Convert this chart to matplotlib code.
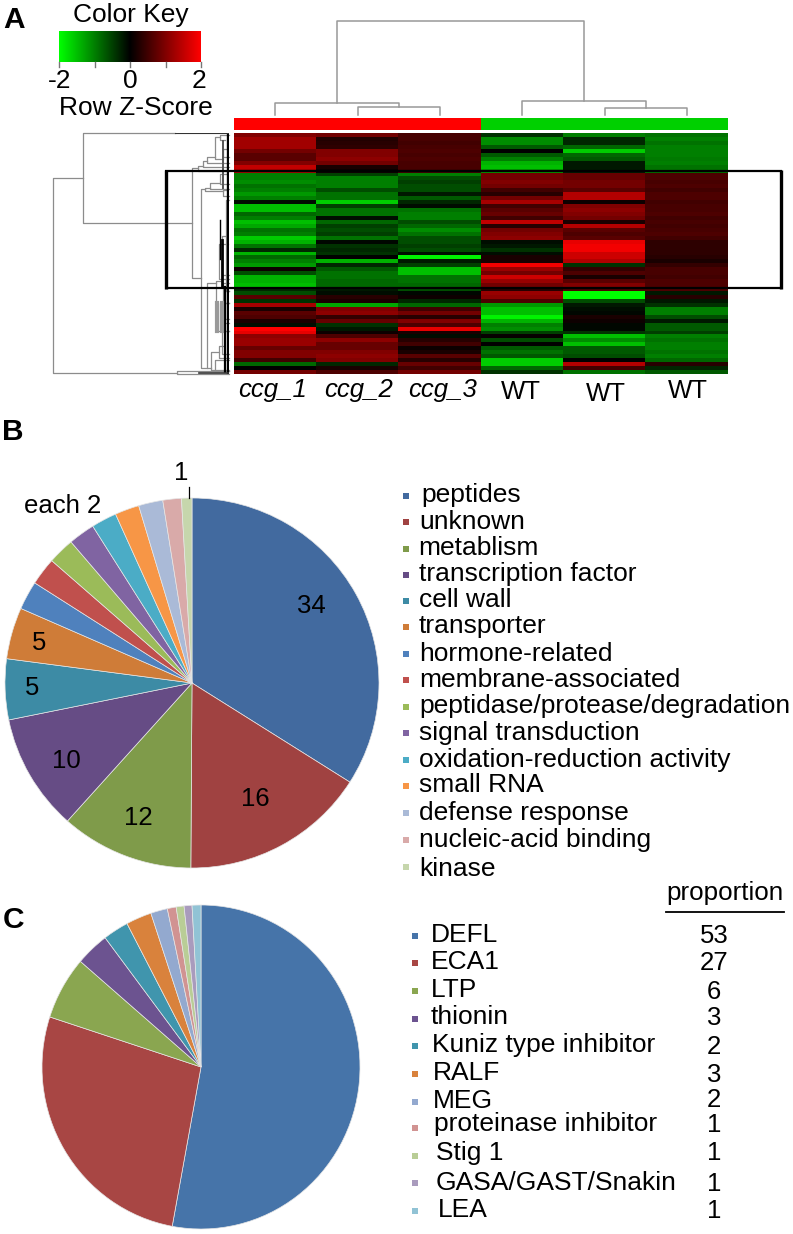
import numpy as np
import matplotlib
matplotlib.use("Agg")
import matplotlib.pyplot as plt
from matplotlib.colors import LinearSegmentedColormap

plt.rcParams["font.family"] = ["Liberation Sans", "DejaVu Sans"]

W, H = 793, 1234

# heatmap values, row z-scores read top to bottom, one list per sample
samples = ["ccg_1", "ccg_2", "ccg_3", "WT", "WT", "WT"]
ccg_1 = [1.0, 1.25, 1.25, 1.25, 0.9, 0.7, 0.7, 1.0, 1.5, 1.3,
         -1.0, -1.0, -1.1, -0.9, -1.0, -1.2, -1.0, -0.1, -1.5, -1.5,
         -0.8, -1.0, -1.5, -1.3, -0.9, -1.0, -1.6, -1.4, -0.9, -0.3,
         -1.4, -0.8, -1.0, -1.2, 0.1, -0.6, -1.4, -1.4, -1.5, -0.3,
         -0.6, 0.7, -0.4, 1.3, 0.2, 0.7, 0.6, 0.2, -0.1, 2.0,
         1.8, 1.1, 1.2, 1.2, 0.8, 1.0, 1.0, 0.5, -0.8, 0.0, 0.9]
ccg_2 = [0.9, 0.25, 0.3, 0.35, 1.0, 1.0, 1.1, 0.9, 0.2, 0.1,
         -0.5, -1.0, -1.0, -1.0, -0.6, -0.9, -0.9, -1.6, -0.5, -0.9,
         -0.9, -0.1, -0.8, -0.5, -0.6, -0.5, -0.9, -0.05, -0.4, -0.3,
         -0.4, 0.0, -1.4, -0.3, -0.7, -0.9, -0.9, -0.8, -0.8, -0.2,
         -0.1, 0.3, 0.2, -1.3, 1.0, 1.1, 0.4, 0.8, -0.4, -0.2,
         0.1, 0.6, 1.1, 0.8, 0.8, 1.0, 1.1, 1.0, -0.3, 0.2, 0.6]
ccg_3 = [0.55, 0.55, 0.5, 0.55, 0.6, 0.55, 0.6, 0.55, 0.55, 0.5,
         -1.0, -0.6, -0.5, -0.6, -0.6, -0.2, -0.7, -0.3, -0.1, -0.9,
         -1.0, -1.0, -0.6, -0.8, -1.1, -0.9, -0.6, -0.6, -0.5, -0.6,
         -0.1, -1.9, -0.2, -0.5, -1.5, -1.5, -0.9, -0.9, -0.8, -0.6,
         -0.05, 0.1, -0.3, -0.8, 0.5, 0.9, 0.3, 1.0, 0.6, 1.8,
         0.2, -0.1, 0.3, 0.5, 0.1, 0.2, 0.7, 0.3, 0.8, 0.5, 0.9]
wt_1 = [-0.4, -1.1, -1.1, -0.7, 0.0, -0.7, -1.0, -1.4, -1.5, -1.2,
        0.9, 0.9, 1.0, 0.9, 0.5, 0.3, 0.9, 1.3, 0.5, 0.7,
        0.8, 0.5, 1.5, 0.3, 0.9, 1.0, 1.1, -0.1, -0.2, -0.4,
        -0.1, 0.2, 0.2, 1.9, 1.2, 0.9, 1.6, 1.2, 0.9, 0.3,
        1.2, 1.1, 0.6, -1.2, -1.5, -1.5, -1.9, -1.4, -1.0, -1.1,
        -0.5, 0.05, -0.6, 0.0, -0.7, -0.9, -0.7, -1.6, -1.6, -0.8, -0.4]
wt_2 = [-1.0, -0.3, -0.3, -0.8, -1.6, -0.8, -0.7, -0.2, -0.2, -0.2,
        0.8, 0.8, 0.9, 0.9, 0.7, 1.4, 1.4, 0.1, 1.0, 1.1,
        1.0, 0.9, 0.2, 1.4, 0.7, 0.6, 0.7, 1.8, 1.9, 1.9,
        1.6, 1.6, 1.4, -0.4, 0.4, 0.6, 0.2, 0.7, 1.0, 0.6,
        -2.0, -2.0, -0.6, -0.2, -0.1, -0.05, 0.2, 0.1, -0.05, -0.05,
        -0.4, -1.5, -1.1, -1.5, -0.7, -0.7, -0.6, 0.0, 1.4, 0.5, -0.9]
wt_3 = [-0.9, -1.0, -0.9, -1.0, -1.0, -1.0, -0.95, -1.0, -0.9, -0.9,
        0.6, 0.6, 0.55, 0.6, 0.5, 0.6, 0.6, 0.5, 0.55, 0.55,
        0.6, 0.5, 0.55, 0.5, 0.55, 0.6, 0.5, 0.35, 0.35, 0.35,
        0.35, 0.3, 0.2, 0.4, 0.55, 0.55, 0.5, 0.6, 0.6, 0.6,
        -0.2, 0.3, -0.2, -0.4, -1.0, -1.0, -0.6, -0.2, -0.7, -0.7,
        -0.5, -1.0, -0.9, -1.0, -1.0, -0.9, -1.0, -0.8, 0.3, -0.3, -0.7]

# column dendrogram merges: height, left pos, right pos, left child height, right child height
col_merges = [(8.5, 1.5, 2.5, 0, 0), (12, 0.5, 2.0, 0, 8.5),
              (7.5, 4.5, 5.5, 0, 0), (14, 3.5, 5.0, 0, 7.5),
              (94, 1.25, 4.25, 12, 14)]
# row dendrogram merges: height, top row, bottom row, top child height, bottom child height
row_merges = [(176, 11.4, 60.8, 146, 52), (146, 0.1, 22.8, 54, 37),
              (37, 8.9, 36.8, 31, 28), (31, 8.3, 9.6, 26, 0),
              (26, 7.2, 8.6, 22, 0), (22, 6.0, 7.6, 14, 0),
              (14, 1.0, 6.6, 9, 6), (9, 0.6, 1.8, 0, 4), (6, 4.0, 6.2, 3, 0),
              (28, 14.3, 59.5, 24, 22), (24, 13.8, 14.8, 19, 6),
              (19, 12.6, 14.2, 9, 0), (9, 10.5, 13.0, 3, 0),
              (6, 14.5, 16.0, 3, 0), (3, 17.0, 40.0, 0, 0),
              (7, 26, 36, 2, 0), (10, 28, 37, 1, 0),
              (22, 38.0, 59.5, 13, 18), (13, 37.4, 50, 9, 0),
              (9, 43, 50, 0, 0), (6, 38, 43, 0, 0), (4, 40, 47, 0, 0),
              (18, 55.5, 60, 10, 0), (10, 54, 57, 5, 0), (14, 57.5, 60.3, 0, 0),
              (7, 48, 56, 0, 0), (52, 60.2, 60.9, 0, 0)]

color_key_ticks = [-2, -1, 0, 1, 2]
key_labels = ["-2", "0", "2"]

b_names = ["peptides", "unknown", "metablism", "transcription factor", "cell wall",
           "transporter", "hormone-related", "membrane-associated",
           "peptidase/protease/degradation", "signal transduction",
           "oxidation-reduction activity", "small RNA", "defense response",
           "nucleic-acid binding", "kinase"]
b_values = [34.0, 16.1, 11.5, 10.2, 5.3, 4.5, 2.5, 2.4, 2.3, 2.3, 2.2, 2.1, 2.1, 1.6, 0.9]
b_colors = ["#426a9f", "#a04241", "#7f9b4a", "#664c85", "#3d8ba5", "#cf7c38", "#4f81bd",
            "#c0504d", "#9bbb59", "#8064a2", "#4bacc6", "#f79646", "#aabad7", "#d9aaa9", "#c6d6ac"]
b_text_y = [495, 522, 548, 574, 600, 626, 654, 680, 706, 733, 760, 785, 813, 840, 869]
b_text_x = [421, 419, 418, 419, 419, 419, 419, 419, 419, 419, 419, 419, 419, 419, 419]
b_mark_y = [496, 522, 549, 575, 601, 627, 654, 680, 707, 733, 760, 786, 813, 840, 867]

# pie C, same thing; the printed proportions are in c_shown
c_names = ["DEFL", "ECA1", "LTP", "thionin", "Kuniz type inhibitor", "RALF", "MEG",
           "proteinase inhibitor", "Stig 1", "GASA/GAST/Snakin", "LEA"]
c_values = [52.9, 27.1, 6.3, 3.4, 2.6, 2.6, 1.7, 0.9, 0.8, 0.8, 0.9]
c_shown = ["53", "27", "6", "3", "2", "3", "2", "1", "1", "1", "1"]
c_colors = ["#4674a9", "#a84644", "#8aa650", "#6c5390", "#4095ad", "#d9823c", "#93a9cf",
            "#d19392", "#b9cd96", "#a99bbd", "#91c3d5"]
c_text_y = [935, 962, 990, 1017, 1045, 1073, 1101, 1124, 1153, 1183, 1210]
c_text_x = [431, 431, 431, 431, 432, 433, 433, 434, 436, 436, 438]
c_mark_y = [936, 963, 991, 1019, 1046, 1074, 1102, 1128, 1156, 1183, 1211]
c_prop_y = [936, 963, 992, 1018, 1047, 1075, 1100, 1125, 1153, 1184, 1211]


def px_axes(x0, y0, x1, y1):
    # axes placed by pixel box, y counted from the top of the image
    a = fig.add_axes([x0 / W, 1 - y1 / H, (x1 - x0) / W, (y1 - y0) / H])
    a.set_axis_off()
    return a


fig = plt.figure(figsize=(W / 100, H / 100), dpi=100, facecolor="white")

rg = LinearSegmentedColormap.from_list("rg", ["#00ff00", "#000000", "#ff0000"])

# heatmap
heat = np.array([ccg_1, ccg_2, ccg_3, wt_1, wt_2, wt_3]).T
ax_heat = px_axes(234, 133, 728, 374)
ax_heat.imshow(heat, cmap=rg, vmin=-2, vmax=2, aspect="auto", interpolation="nearest")

# side colour bar over the columns
ax_bar = px_axes(234, 118, 728, 130)
ax_bar.barh(0, 3, left=0, height=1, color="#ff0000")
ax_bar.barh(0, 3, left=3, height=1, color="#00d000")
ax_bar.set_xlim(0, 6)
ax_bar.set_ylim(-0.5, 0.5)

# column dendrogram
ax_top = px_axes(234, 21, 728, 115)
ax_top.set_xlim(0, 6)
ax_top.set_ylim(0, 94)
for h, a, b, ha, hb in col_merges:
    ax_top.plot([a, a, b, b], [ha, h, h, hb], color="#999999", lw=1.1, clip_on=False)

# row dendrogram
ax_left = px_axes(50, 133, 229, 374)
ax_left.set_xlim(179, 0)
ax_left.set_ylim(61, 0)
for h, a, b, ha, hb in row_merges:
    ax_left.plot([ha, h, h, hb], [a, a, b, b], color="#8c8c8c", lw=0.9, clip_on=False)
# the leaves are too dense to separate, they read as a black strip
ax_left.plot([1.5, 1.5], [0, 61], color="black", lw=2.4)
ax_left.plot([7, 7], [27, 39], color="black", lw=2.0)
ax_left.plot([4, 4], [39, 60.5], color="black", lw=1.6)
ax_left.plot([9, 9], [22, 32], color="black", lw=1.0)
ax_left.plot([0, 54], [0.05, 0.05], color="#333333", lw=0.8)
ax_left.plot([0, 30], [60.7, 60.7], color="#333333", lw=1.2)
ax_left.plot([6, 6], [2, 14], color="#555555", lw=1.4)
ax_left.plot([12, 12], [43, 50], color="#999999", lw=3.0)
ax_left.plot([7, 7], [43, 50], color="#999999", lw=3.0)

# colour key
ax_key = px_axes(59, 31, 201, 62)
ax_key.imshow(np.linspace(-2, 2, 256).reshape(1, -1), cmap=rg, aspect="auto", extent=[-2, 2, 0, 1])
ax_tick = px_axes(59, 62, 201, 67)
ax_tick.set_xlim(-2, 2)
ax_tick.set_ylim(1, 0)
for t in color_key_ticks:
    ax_tick.plot([t, t], [0, 1], color="#777777", lw=1.0, clip_on=False)

# pies, both a little wider than tall in the original
ax_b = px_axes(5, 498, 379, 868)
ax_b.pie(b_values, colors=b_colors, startangle=90, counterclock=False, radius=1,
         wedgeprops={"edgecolor": "#e6e6e6", "linewidth": 0.5})
ax_b.set_aspect("auto")
ax_b.set_xlim(-1, 1)
ax_b.set_ylim(-1, 1)

ax_c = px_axes(42, 905, 360, 1229)
ax_c.pie(c_values, colors=c_colors, startangle=90, counterclock=False, radius=1,
         wedgeprops={"edgecolor": "#e6e6e6", "linewidth": 0.5})
ax_c.set_aspect("auto")
ax_c.set_xlim(-1, 1)
ax_c.set_ylim(-1, 1)

# everything else sits on a full image overlay counted in pixels
ov = px_axes(0, 0, W, H)
ov.set_xlim(0, W)
ov.set_ylim(H, 0)
ov.patch.set_alpha(0)

# highlight box across the heatmap
ov.plot([165, 782], [171, 171], color="black", lw=1.6, solid_capstyle="butt")
ov.plot([165, 782], [288, 288], color="black", lw=1.6, solid_capstyle="butt")
ov.plot([166, 166], [170, 289], color="black", lw=2.4, solid_capstyle="butt")
ov.plot([781, 781], [170, 289], color="black", lw=2.4, solid_capstyle="butt")

ov.text(131, 15, "Color Key", fontsize=19, ha="center", va="center")
for lab, x in zip(key_labels, [60, 130, 199]):
    ov.text(x, 81, lab, fontsize=19, ha="center", va="center")
ov.text(136, 108, "Row Z-Score", fontsize=19, ha="center", va="center")

for lab, x, y in zip(samples, [273, 359, 443, 521, 606, 688], [390, 390, 390, 392, 394, 391]):
    ov.text(x, y, lab, fontsize=18.5, ha="center", va="center",
            style="italic" if lab.startswith("ccg") else "normal")

for lab, x, y in [("A", 14, 20), ("B", 13, 432), ("C", 13, 920)]:
    ov.text(x, y, lab, fontsize=21.5, fontweight="bold", ha="center", va="center")

# slice labels of pie B
for lab, x, y in [("34", 311, 606), ("16", 255, 799), ("12", 138, 818), ("10", 66, 761),
                  ("5", 32, 688), ("5", 39, 643), ("each 2", 63, 506), ("1", 181, 473)]:
    ov.text(x, y, lab, fontsize=18.5, ha="center", va="center")
ov.plot([189, 189], [487, 498], color="black", lw=0.9)

for name, col, tx, ty, my in zip(b_names, b_colors, b_text_x, b_text_y, b_mark_y):
    ov.plot(406, my, "s", color=col, ms=4.8, mew=0)
    ov.text(tx, ty, name, fontsize=19, ha="left", va="center")

ov.text(725, 893, "proportion", fontsize=18.7, ha="center", va="center")
ov.plot([666, 784], [912, 912], color="black", lw=1.3)
for name, col, tx, ty, my, shown, py in zip(c_names, c_colors, c_text_x, c_text_y, c_mark_y, c_shown, c_prop_y):
    ov.plot(415, my, "s", color=col, ms=4.8, mew=0)
    ov.text(tx, ty, name, fontsize=19, ha="left", va="center")
    ov.text(714, py, shown, fontsize=18.5, ha="center", va="center")

fig.savefig("out.png", dpi=100)
